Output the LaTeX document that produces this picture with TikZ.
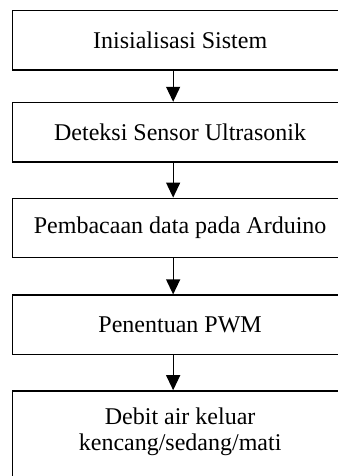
\documentclass[tikz,border=0pt]{standalone}
\usepackage{fontspec}
\setmainfont{Liberation Serif}
\usetikzlibrary{positioning,arrows.meta}
\tikzstyle{process} = [rectangle, minimum width=335pt, minimum height=59.5pt, text centered, draw=black, line width=1.3pt, font=\fontsize{24}{26}\selectfont]
\tikzstyle{output} = [process, align=center, inner ysep=17pt]
\tikzstyle{arrow} = [line width=1.2pt, -{Triangle[width=14pt,length=15pt]}]

\begin{document}
\begin{tikzpicture}[node distance=35pt]
\useasboundingbox (0,0) rectangle (337pt,-476pt);

        % Nodes
        \node (init) [process, anchor=north west] at (12pt,-10pt) {Inisialisasi Sistem};
        \node (sensor) [process, below=31pt of init] {Deteksi Sensor Ultrasonik};
        \node (baca) [process, below=35pt of sensor] {Pembacaan data pada Arduino};
        \node (pwm) [process, below=36pt of baca] {Penentuan PWM};
        \node (debit) [output, below=35pt of pwm] {Debit air keluar\\kencang/sedang/mati\\[20pt]~};

        % Arrows
        \draw [arrow] ([xshift=-7pt]init.south) -- ([xshift=-7pt]sensor.north);
        \draw [arrow] ([xshift=-7pt]sensor.south) -- ([xshift=-7pt]baca.north);
        \draw [arrow] ([xshift=-7pt]baca.south) -- ([xshift=-7pt]pwm.north);
        \draw [arrow] ([xshift=-7pt]pwm.south) -- ([xshift=-7pt]debit.north);

\end{tikzpicture}
\end{document}
